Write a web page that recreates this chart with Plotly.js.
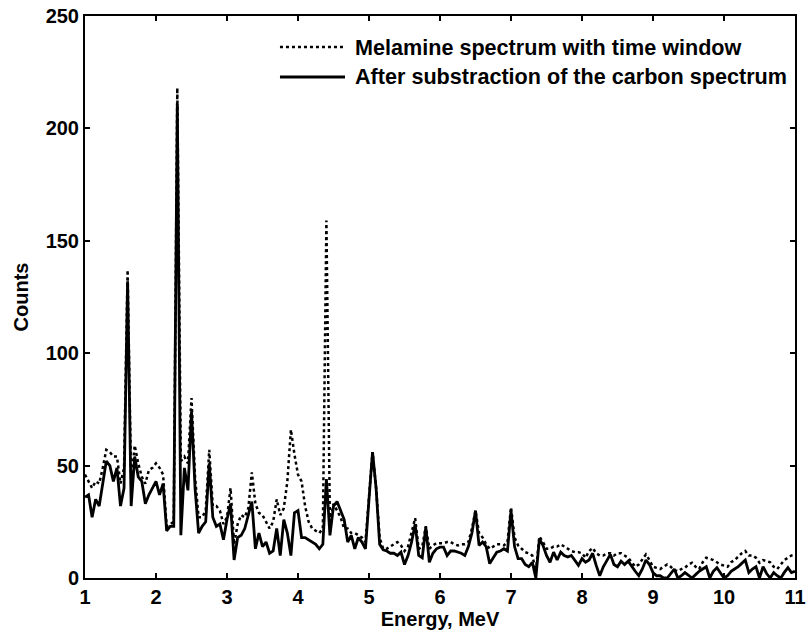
<!DOCTYPE html>
<html>
<head>
<meta charset="utf-8">
<script src="https://cdn.plot.ly/plotly-3.0.1.min.js"></script>
<style>html,body{margin:0;padding:0;background:#fff;}#chart{width:806px;height:638px;}</style>
</head>
<body>
<div id="chart"></div>
<script>
const energy = [
 1.00,1.05,1.10,1.15,1.20,1.25,1.30,1.35,1.40,1.45,1.50,1.55,1.60,1.65,1.70,1.75,1.80,1.85,1.90,1.95,
 2.00,2.05,2.10,2.15,2.20,2.25,2.30,2.35,2.40,2.45,2.50,2.55,2.60,2.65,2.70,2.75,2.80,2.85,2.90,2.95,
 3.00,3.05,3.10,3.15,3.20,3.25,3.30,3.35,3.40,3.45,3.50,3.55,3.60,3.65,3.70,3.75,3.80,3.85,3.90,3.95,
 4.00,4.05,4.10,4.15,4.20,4.25,4.30,4.35,4.40,4.45,4.50,4.55,4.60,4.65,4.70,4.75,4.80,4.85,4.90,4.95,
 5.00,5.05,5.10,5.15,5.20,5.25,5.30,5.35,5.40,5.45,5.50,5.55,5.60,5.65,5.70,5.75,5.80,5.85,5.90,5.95,
 6.00,6.05,6.10,6.15,6.20,6.25,6.30,6.35,6.40,6.45,6.50,6.55,6.60,6.65,6.70,6.75,6.80,6.85,6.90,6.95,
 7.00,7.05,7.10,7.15,7.20,7.25,7.30,7.35,7.40,7.45,7.50,7.55,7.60,7.65,7.70,7.75,7.80,7.85,7.90,7.95,
 8.00,8.05,8.10,8.15,8.20,8.25,8.30,8.35,8.40,8.45,8.50,8.55,8.60,8.65,8.70,8.75,8.80,8.85,8.90,8.95,
 9.00,9.05,9.10,9.15,9.20,9.25,9.30,9.35,9.40,9.45,9.50,9.55,9.60,9.65,9.70,9.75,9.80,9.85,9.90,9.95,
 10.00,10.05,10.10,10.15,10.20,10.25,10.30,10.35,10.40,10.45,10.50,10.55,10.60,10.65,10.70,10.75,10.80,10.85,10.90,10.95,
 11.00
];

const melamine = [
 46,43,40,43,42,49,57,56,54,54,42,49,137,42,59,51,45,42,48,49,
 51,49,46,23,24,25,218,52,54,51,80,45,27,27,30,57,32,32,30,24,
 27,40,15,24,28,27,31,47,33,29,28,25,22,25,35,28,31,43,66,55,
 46,43,32,25,22,21,20,22,159,24,33,30,27,22,22,20,20,19,18,16,
 35,56,40,18,13,13,14,15,16,14.5,12,14,20,26.6,13,14,23,13,14.5,15.5,
 15.5,15.5,16,16,15,14.5,15,15,16,22,30,20,18,15,13,14,15,15,14.5,16,
 31.5,18,14.5,13,11.5,11,10,3,18.5,16,13,13,14,14,15,14,13,12,11.5,11.5,
 11,9,12,13.4,11,10,10,11,11,10,11,11,10,9,7,5,6,8,10.5,8,
 5,4.5,4,5,6,5,3.5,3,4,4.6,6,6.8,5,4,7,9,8.5,8,7,6,
 5.5,5,7,8,9.5,11,12,10,10,9,6.8,8,7.5,7,5,4,6,8,9,10,
 10
];

const subtracted = [
 36,37,27,35,32,42,52,50,43,49,32,40,132,32,54,45,43,33,37,40,
 43,37,42,21,23,23,211,19,49,39,74,40,20,23,25,51,27,23,24,17,
 26,33,8,18,19,22,28,34,13,20,14,16,11,12,22,10,26,20,10,29,
 30,18,18,17,16,15,13,15,44,19,32,34,30,26,16,19,13,18,16,13,
 35,56,40,15,12.5,12,11,11,10,11.5,6,10,16,24,10,9,22.6,7,11,13,
 13.7,13.7,10,12,12,11.5,11,10,14,20,30,14.5,16,14,6.4,9,11.5,12,13,12,
 30,14,8.6,8.6,6,5,7,0,17.4,14.5,10,7,11.5,8,11.5,10,9.3,10,8,5.6,
 8.6,7,8,11,5.6,1,5,8,10.5,6,5,7.5,6,7.5,5,3,1,4,8,6,
 2.4,1,1,0,0,2,4,0,1,2.4,1,0,1.5,3,4,5,0,3,4.6,2.4,
 0,1,3,4,5,6.5,8,2.4,4,5,0,5,2,0,2.4,1,0,2.5,4.6,2.4,
 3
];

const seriesNames = ["Melamine spectrum with time window", "After substraction of the carbon spectrum"];
const xTicks = [1,2,3,4,5,6,7,8,9,10,11];
const yTicks = [0,50,100,150,200,250];

const font = {family: "Liberation Sans, Arial, sans-serif", size: 20, color: "#000", weight: "bold"};

const traces = [
  {x: energy, y: melamine, type: "scatter", mode: "lines", name: seriesNames[0],
   line: {color: "#000", width: 2.5, dash: "dot"}, showlegend: false},
  {x: energy, y: subtracted, type: "scatter", mode: "lines", name: seriesNames[1],
   line: {color: "#000", width: 2.8}, showlegend: false}
];

// manual legend (line samples + labels) in paper coordinates
const legendRows = [
  {y: 0.9448, dash: "dot", width: 2.5, text: seriesNames[0]},
  {y: 0.8915, dash: "solid", width: 2.8, text: seriesNames[1]}
];
const shapes = legendRows.map(r => ({
  type: "line", xref: "paper", yref: "paper", x0: 0.2746, x1: 0.3662, y0: r.y, y1: r.y,
  line: {color: "#000", width: r.width, dash: r.dash}
}));
const annotations = legendRows.map(r => ({
  xref: "paper", yref: "paper", x: 0.3775, y: r.y, xanchor: "left", yanchor: "middle",
  text: r.text, showarrow: false, font: {family: font.family, size: 21.6, color: "#000", weight: "bold"}
}));

const axisCommon = {
  showgrid: false, zeroline: false, showline: true, linecolor: "#000", linewidth: 2,
  mirror: "ticks", ticks: "inside", ticklen: 5, tickwidth: 2, tickcolor: "#000",
  tickfont: font
};

const layout = {
  width: 806, height: 638,
  margin: {l: 85, r: 11, t: 16, b: 60},
  paper_bgcolor: "#fff", plot_bgcolor: "#fff",
  font: font,
  showlegend: false,
  xaxis: Object.assign({}, axisCommon, {
    range: [1, 11], tickvals: xTicks, ticktext: xTicks.map(String),
    title: {text: "Energy, MeV", font: font, standoff: 2}
  }),
  yaxis: Object.assign({}, axisCommon, {
    range: [0, 250], tickvals: yTicks, ticktext: yTicks.map(String),
    title: {text: "Counts", font: font, standoff: 12}
  }),
  shapes: shapes,
  annotations: annotations
};

Plotly.newPlot("chart", traces, layout, {displayModeBar: false, staticPlot: true});
</script>
</body>
</html>
